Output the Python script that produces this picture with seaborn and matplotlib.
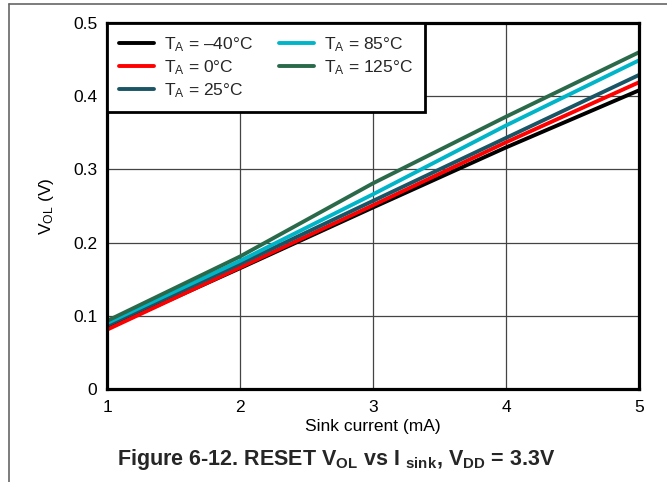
import matplotlib
matplotlib.use('Agg')
import matplotlib.pyplot as plt
import pandas as pd
import seaborn as sns
from matplotlib.lines import Line2D

# Sink current (mA)
sink_current = [1, 2, 3, 4, 5]

# VOL (V), one list per temperature
vol_m40 = [0.083, 0.165, 0.248, 0.330, 0.408]
vol_0 = [0.081, 0.166, 0.251, 0.337, 0.419]
vol_25 = [0.087, 0.171, 0.257, 0.343, 0.429]
vol_85 = [0.090, 0.175, 0.266, 0.360, 0.449]
vol_125 = [0.093, 0.181, 0.281, 0.372, 0.460]

labels = [r'T$_\mathregular{A}$ = –40°C', r'T$_\mathregular{A}$ = 0°C',
          r'T$_\mathregular{A}$ = 25°C', r'T$_\mathregular{A}$ = 85°C',
          r'T$_\mathregular{A}$ = 125°C']
colors = ['#000000', '#ff0000', '#1a5566', '#00b5c8', '#2a6a4a']

x_ticks = [1, 2, 3, 4, 5]
y_ticks = [0, 0.1, 0.2, 0.3, 0.4, 0.5]
y_tick_labels = ['0', '0.1', '0.2', '0.3', '0.4', '0.5']

rows = []
for lab, vals in zip(labels, [vol_m40, vol_0, vol_25, vol_85, vol_125]):
    for x, v in zip(sink_current, vals):
        rows.append({'current': x, 'vol': v, 'temp': lab})
df = pd.DataFrame(rows)

sns.set_theme(style='white')
plt.rcParams['font.family'] = ['Liberation Sans', 'DejaVu Sans']
plt.rcParams['mathtext.fontset'] = 'custom'
plt.rcParams['mathtext.rm'] = 'Liberation Sans'
plt.rcParams['mathtext.it'] = 'Liberation Sans:italic'
plt.rcParams['mathtext.bf'] = 'Liberation Sans:bold'

fig = plt.figure(figsize=(6.67, 4.82), dpi=100)
ax = fig.add_axes([107 / 667, 1 - 389 / 482, 532 / 667, 366 / 482])

sns.lineplot(data=df, x='current', y='vol', hue='temp', hue_order=labels,
             palette=dict(zip(labels, colors)), linewidth=2.8, ax=ax,
             legend=False)

ax.set_xlim(1, 5)
ax.set_ylim(0, 0.5)
ax.set_xticks(x_ticks)
ax.set_xticklabels([str(t) for t in x_ticks])
ax.set_yticks(y_ticks)
ax.set_yticklabels(y_tick_labels)
ax.tick_params(length=0, labelsize=12.5, colors='black')
ax.tick_params(axis='y', pad=7)
ax.tick_params(axis='x', pad=8)
ax.grid(True, color='#444444', linewidth=0.9)
for sp in ax.spines.values():
    sp.set_color('black')
    sp.set_linewidth(2.3)

ax.set_xlabel('Sink current (mA)', fontsize=12.5, color='black', labelpad=3)
ax.set_ylabel(r'V$_\mathregular{OL}$ (V)', fontsize=12.5, color='black', labelpad=12)

handles = [Line2D([], [], color=c, linewidth=2.8) for c in colors]
leg = ax.legend(handles, labels, ncol=2, loc='upper left', bbox_to_anchor=(0, 1),
                borderaxespad=0, frameon=True, fancybox=False, fontsize=12.5,
                handlelength=2.0, handletextpad=0.6, columnspacing=1.5,
                labelspacing=0.25, borderpad=0.7)
leg.get_frame().set_edgecolor('black')
leg.get_frame().set_linewidth(2.0)
leg.get_frame().set_facecolor('white')
leg.get_frame().set_alpha(1)

fig.text(336 / 667, 1 - 459 / 482,
         r'Figure 6-12. RESET V$_\mathbf{OL}$ vs I $_\mathbf{sink}$, V$_\mathbf{DD}$ = 3.3V',
         ha='center', va='center', fontsize=15.5, fontweight='bold')

# page frame lines
fig.add_artist(Line2D([9 / 667, 1], [1 - 4 / 482, 1 - 4 / 482], color='#666666', linewidth=1.2))
fig.add_artist(Line2D([9 / 667, 9 / 667], [0, 1 - 4 / 482], color='#666666', linewidth=1.2))

fig.savefig('out.png', dpi=100)
